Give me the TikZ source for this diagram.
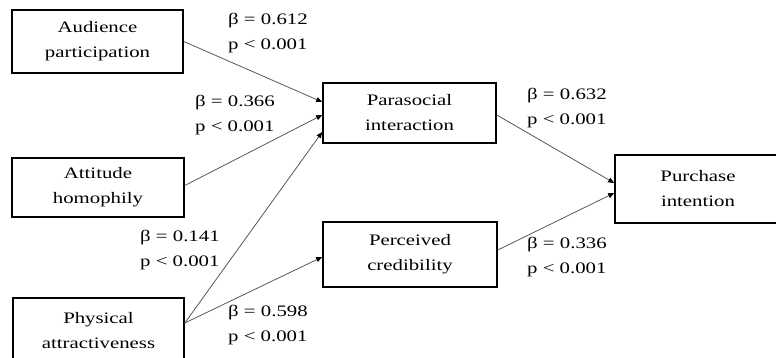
\documentclass[tikz,border=0pt]{standalone}
\usepackage{fontspec}
\setmainfont{Liberation Serif}[FakeStretch=1.3]
\usetikzlibrary{arrows.meta}
\begin{document}
\begin{tikzpicture}[x=1pt,y=-1pt,
  box/.style={draw=black,line width=1.6pt,rectangle,align=center,inner sep=0pt,
    font=\fontsize{16}{25}\selectfont,text=black},
  lbl/.style={anchor=west,align=left,inner sep=0pt,
    font=\fontsize{16}{25}\selectfont,text=black},
  conn/.style={draw=black!65,line width=0.8pt,-{Triangle[length=6pt,width=5pt,fill=black,color=black]}}]
\useasboundingbox (0,0) rectangle (776,358);
\clip (0,0) rectangle (776,358);
\fill[white] (0,0) rectangle (776,358);
\node[box,minimum width=171pt,minimum height=63pt] (ap) at (97.5,41.5) {Audience\\participation};
\node[box,minimum width=172pt,minimum height=59pt] (ah) at (98,187.5) {Attitude\\homophily};
\node[box,minimum width=171pt,minimum height=66pt] (pa) at (98.5,331) {Physical\\attractiveness};
\node[box,minimum width=173pt,minimum height=60pt] (psi) at (409.5,113) {Parasocial\\interaction};
\node[box,minimum width=174pt,minimum height=65pt] (pc) at (410,254.5) {Perceived\\credibility};
\node[box,minimum width=166pt,minimum height=68pt] (pi) at (698,189) {Purchase\\intention};
\draw[conn] (ap.east) -- ([yshift=11pt]psi.west);
\draw[conn] ([yshift=2pt]ah.east) -- ([yshift=-2pt]psi.west);
\draw[conn] ([yshift=8pt]pa.east) -- ([yshift=-19pt]psi.west);
\draw[conn] ([yshift=8pt]pa.east) -- ([yshift=-2.5pt]pc.west);
\draw[conn] ([yshift=-2pt]psi.east) -- ([yshift=6pt]pi.west);
\draw[conn] ([yshift=4.5pt]pc.east) -- ([yshift=-4pt]pi.west);
\node[lbl] (l1) at (228,33) {β = 0.612\\p < 0.001};
\node[lbl] (l2) at (195,115.5) {β = 0.366\\p < 0.001};
\node[lbl] (l3) at (140,250.5) {β = 0.141\\p < 0.001};
\node[lbl] (l4) at (228,325) {β = 0.598\\p < 0.001};
\node[lbl] (l5) at (527,108.5) {β = 0.632\\p < 0.001};
\node[lbl] (l6) at (527,257.5) {β = 0.336\\p < 0.001};
\end{tikzpicture}
\end{document}
